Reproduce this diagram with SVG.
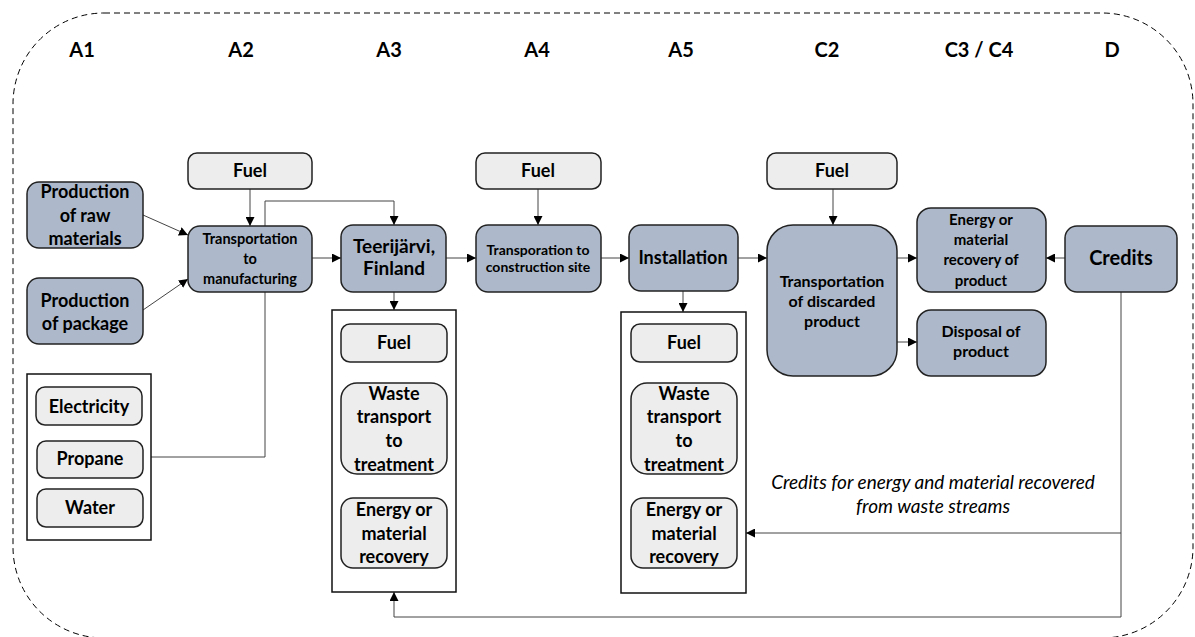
<svg xmlns="http://www.w3.org/2000/svg" width="1195" height="637" viewBox="0 0 1195 637">
<defs>
<marker id="ah" viewBox="0 0 10 10" refX="10" refY="5" markerWidth="9" markerHeight="9" markerUnits="userSpaceOnUse" orient="auto">
<path d="M0,0 L10,5 L0,10 z" fill="#000"/>
</marker>
<style>
.bound{fill:none;stroke:#000;stroke-width:1;stroke-dasharray:6 4}
.blue{fill:#adb9ca;stroke:#222;stroke-width:1.5}
.grey{fill:#ededed;stroke:#222;stroke-width:1.5}
.box{fill:#fff;stroke:#111;stroke-width:1.5}
.con{fill:none;stroke:#444;stroke-width:1}
.arr{fill:none;stroke:#444;stroke-width:1;marker-end:url(#ah)}
text{font-family:Lato,"Open Sans","Liberation Sans",sans-serif;font-weight:bold;fill:#000;text-anchor:middle}
.hd{font-size:20px}
.it{font-style:italic;font-weight:normal;font-size:19px}
</style>
</defs>
<rect class="bound" x="13" y="13" width="1180" height="625" rx="91" ry="91"/>
<g id="headers">
<text class="hd" x="82" y="57">A1</text>
<text class="hd" x="241" y="57">A2</text>
<text class="hd" x="389" y="57">A3</text>
<text class="hd" x="537" y="57">A4</text>
<text class="hd" x="681" y="57">A5</text>
<text class="hd" x="827" y="57">C2</text>
<text class="hd" x="979" y="57">C3 / C4</text>
<text class="hd" x="1112" y="57">D</text>
</g>
<g id="connectors">
<line class="arr" x1="143" y1="215" x2="188" y2="235"/>
<line class="arr" x1="143" y1="310" x2="188" y2="279"/>
<line class="arr" x1="250" y1="189" x2="250" y2="226"/>
<line class="arr" x1="312" y1="258" x2="341" y2="258"/>
<polyline class="arr" points="265,226 265,201 394,201 394,225"/>
<polyline class="con" points="265,292 265,457 151,457"/>
<line class="arr" x1="538" y1="189" x2="538" y2="225"/>
<line class="arr" x1="446" y1="258" x2="476" y2="258"/>
<line class="arr" x1="601" y1="258" x2="629" y2="258"/>
<line class="arr" x1="394" y1="292" x2="394" y2="310"/>
<line class="arr" x1="394" y1="362" x2="394" y2="383"/>
<line class="arr" x1="394" y1="474" x2="394" y2="498"/>
<line class="arr" x1="683" y1="291" x2="683" y2="312"/>
<line class="arr" x1="683" y1="362" x2="683" y2="383"/>
<line class="arr" x1="683" y1="474" x2="683" y2="498"/>
<line class="arr" x1="738" y1="258" x2="767" y2="258"/>
<line class="arr" x1="833" y1="189" x2="833" y2="225"/>
<line class="arr" x1="897" y1="258" x2="917" y2="258"/>
<line class="arr" x1="897" y1="342" x2="917" y2="342"/>
<line class="arr" x1="1065" y1="258" x2="1046" y2="258"/>
<polyline class="con" points="1121,292 1121,617 394,617"/>
<line class="arr" x1="394" y1="617" x2="394" y2="592"/>
<line class="arr" x1="1121" y1="533" x2="746" y2="533"/>
</g>
<g id="prod-raw">
<rect class="blue" x="27" y="182" width="116" height="66" rx="12"/>
<text x="85" y="198" font-size="18">Production</text>
<text x="85" y="222" font-size="18">of raw</text>
<text x="85" y="245" font-size="18">materials</text>
</g>
<g id="prod-package">
<rect class="blue" x="27" y="278" width="116" height="66" rx="12"/>
<text x="85" y="307" font-size="18">Production</text>
<text x="85" y="330" font-size="18">of package</text>
</g>
<g id="utilities">
<rect class="box" x="27" y="374" width="124" height="166"/>
<rect class="grey" x="36" y="387" width="106" height="38" rx="9"/>
<text x="89" y="413" font-size="18">Electricity</text>
<rect class="grey" x="37" y="441" width="106" height="37" rx="9"/>
<text x="90" y="465" font-size="18">Propane</text>
<rect class="grey" x="37" y="489" width="106" height="38" rx="9"/>
<text x="90" y="514" font-size="18">Water</text>
</g>
<g id="fuel-a2">
<rect class="grey" x="188" y="153" width="124" height="36" rx="9"/>
<text x="250" y="177" font-size="18">Fuel</text>
</g>
<g id="trans-manuf">
<rect class="blue" x="188" y="226" width="124" height="66" rx="12"/>
<text x="250" y="244" font-size="14.5">Transportation</text>
<text x="250" y="264" font-size="14.5">to</text>
<text x="250" y="284" font-size="14.5">manufacturing</text>
</g>
<g id="teerijarvi">
<rect class="blue" x="341" y="225" width="105" height="67" rx="12"/>
<text x="394" y="253" font-size="19">Teerijärvi,</text>
<text x="394" y="275" font-size="19">Finland</text>
</g>
<g id="box-a3">
<rect class="box" x="332" y="310" width="124" height="282"/>
<rect class="grey" x="341" y="324" width="106" height="38" rx="9"/>
<text x="394" y="349" font-size="18">Fuel</text>
<rect class="grey" x="341" y="383" width="106" height="91" rx="16"/>
<text x="394" y="400" font-size="18">Waste</text>
<text x="394" y="423" font-size="18">transport</text>
<text x="394" y="447" font-size="18">to</text>
<text x="394" y="471" font-size="18">treatment</text>
<rect class="grey" x="341" y="498" width="106" height="70" rx="12"/>
<text x="394" y="516" font-size="18">Energy or</text>
<text x="394" y="540" font-size="18">material</text>
<text x="394" y="563" font-size="18">recovery</text>
</g>
<g id="fuel-a4">
<rect class="grey" x="476" y="153" width="125" height="36" rx="9"/>
<text x="538" y="177" font-size="18">Fuel</text>
</g>
<g id="trans-site">
<rect class="blue" x="476" y="225" width="125" height="67" rx="12"/>
<text x="538" y="255" font-size="14">Transporation to</text>
<text x="538" y="272" font-size="14">construction site</text>
</g>
<g id="installation">
<rect class="blue" x="629" y="225" width="109" height="66" rx="12"/>
<text x="683" y="264" font-size="18">Installation</text>
</g>
<g id="box-a5">
<rect class="box" x="621" y="312" width="125" height="281"/>
<rect class="grey" x="631" y="324" width="106" height="38" rx="9"/>
<text x="684" y="349" font-size="18">Fuel</text>
<rect class="grey" x="631" y="383" width="106" height="91" rx="16"/>
<text x="684" y="400" font-size="18">Waste</text>
<text x="684" y="423" font-size="18">transport</text>
<text x="684" y="447" font-size="18">to</text>
<text x="684" y="471" font-size="18">treatment</text>
<rect class="grey" x="631" y="498" width="106" height="70" rx="12"/>
<text x="684" y="516" font-size="18">Energy or</text>
<text x="684" y="540" font-size="18">material</text>
<text x="684" y="563" font-size="18">recovery</text>
</g>
<g id="fuel-c2">
<rect class="grey" x="767" y="153" width="130" height="36" rx="9"/>
<text x="832" y="177" font-size="18">Fuel</text>
</g>
<g id="trans-discarded">
<rect class="blue" x="767" y="225" width="130" height="151" rx="26"/>
<text x="832" y="287" font-size="16">Transportation</text>
<text x="832" y="307" font-size="16">of discarded</text>
<text x="832" y="327" font-size="16">product</text>
</g>
<g id="recovery-product">
<rect class="blue" x="917" y="208" width="129" height="84" rx="14"/>
<text x="981" y="225" font-size="15">Energy or</text>
<text x="981" y="245" font-size="15">material</text>
<text x="981" y="265" font-size="15">recovery of</text>
<text x="981" y="286" font-size="15">product</text>
</g>
<g id="disposal">
<rect class="blue" x="917" y="310" width="129" height="66" rx="14"/>
<text x="981" y="337" font-size="16">Disposal of</text>
<text x="981" y="357" font-size="16">product</text>
</g>
<g id="credits">
<rect class="blue" x="1065" y="226" width="112" height="66" rx="12"/>
<text x="1121" y="265" font-size="20">Credits</text>
</g>
<g id="credits-label">
<text class="it" x="933" y="489">Credits for energy and material recovered</text>
<text class="it" x="933" y="513">from waste streams</text>
</g>
</svg>
